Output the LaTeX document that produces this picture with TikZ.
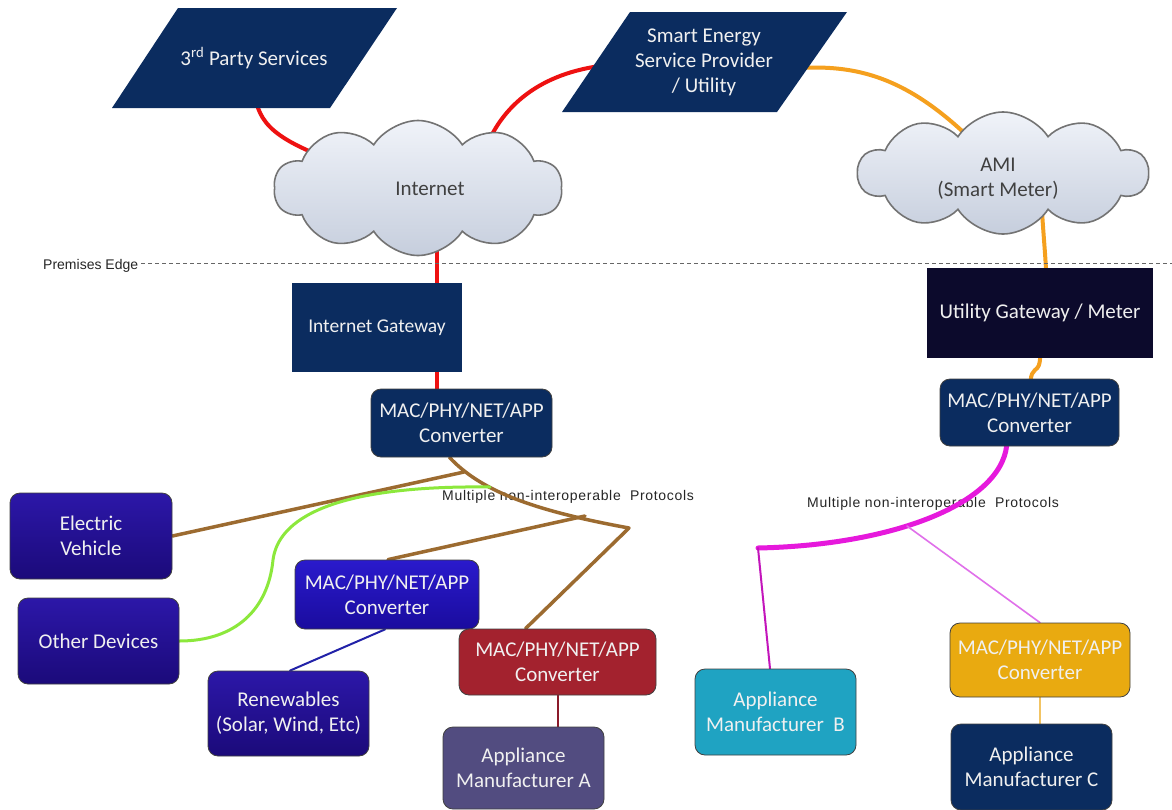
\documentclass[tikz,border=0pt]{standalone}
\usepackage{fontspec}
\setmainfont{Carlito}
\newfontfamily\arialf{Liberation Sans}
\newfontfamily\arialsp[LetterSpace=5]{Liberation Sans}
\usetikzlibrary{shapes.symbols,calc}
\pgfdeclarelayer{paper}
\pgfdeclarelayer{lbl}
\pgfdeclarelayer{bg}
\pgfsetlayers{paper,lbl,bg,main}
\definecolor{navy}{HTML}{0B2C5F}
\definecolor{ink}{HTML}{0C0A2C}
\definecolor{indtop}{HTML}{2C17A8}
\definecolor{indbot}{HTML}{1B0A7A}
\definecolor{bltop}{HTML}{2A1ACC}
\definecolor{blbot}{HTML}{1A0C9E}
\definecolor{cred}{HTML}{A3222E}
\definecolor{cgrey}{HTML}{524C80}
\definecolor{cteal}{HTML}{1FA3C2}
\definecolor{cyel}{HTML}{E9AA10}
\definecolor{cloudtop}{HTML}{F0F3F9}
\definecolor{cloudbot}{HTML}{C6CEDD}
\definecolor{lred}{HTML}{EE1111}
\definecolor{lorange}{HTML}{F5A01E}
\definecolor{lmag}{HTML}{E619DC}
\definecolor{lmagl}{HTML}{E070EA}
\definecolor{lbrown}{HTML}{9C6B30}
\definecolor{lgreen}{HTML}{8CE83C}
\definecolor{lblue}{HTML}{2222A8}
\definecolor{ldred}{HTML}{8B1A2A}
\definecolor{lyel}{HTML}{F2C464}
\tikzset{
  boxbase/.style={align=center, text=white!94!black, font=\fontsize{21}{25}\selectfont, inner sep=0pt, line width=0.8pt},
  rbox/.style={boxbase, rounded corners=10pt, draw=black!75},
  sqbox/.style={boxbase},
  cloudy/.style={cloud, cloud puffs=10, cloud puff arc=115, aspect=2.2, draw=black!55, line width=1.6pt, top color=cloudtop, bottom color=cloudbot, inner sep=0pt},
  cloudtxt/.style={align=center, text=black!75, font=\fontsize{21}{25}\selectfont},
  para/.style={fill=navy},
  conn/.style={line cap=round},
  redline/.style={conn, draw=lred, line width=4pt},
  orline/.style={conn, draw=lorange, line width=4pt},
  magthick/.style={conn, draw=lmag, line width=5pt},
  magthin/.style={conn, draw=lmagl, line width=1.6pt},
  magmid/.style={conn, draw=lmag!85!black, line width=2pt},
  brownline/.style={conn, draw=lbrown, line width=3.5pt},
  greenline/.style={conn, draw=lgreen, line width=3pt},
  blueline/.style={conn, draw=lblue, line width=2pt},
  dredline/.style={conn, draw=ldred, line width=2pt},
  yelline/.style={conn, draw=lyel, line width=1.5pt},
  note/.style={font=\arialf\fontsize{14}{16}\selectfont, text=black!85, inner sep=0pt},
  protonote/.style={font=\arialsp\fontsize{14}{16}\selectfont, text=black!85, inner sep=0pt},
}
\begin{document}
\begin{tikzpicture}[x=1pt, y=-1pt]
\useasboundingbox (0,0) rectangle (1172,809);
\begin{pgfonlayer}{paper}
\fill[white] (0,0) rectangle (1172,809);
\end{pgfonlayer}

% parallelograms
\fill[para] (178,8) -- (397,8) -- (330,108) -- (112,108) -- cycle;
\node[boxbase] (tps) at (254,58) {3\textsuperscript{rd} Party Services};
\fill[para] (630,12) -- (847,12) -- (777,112) -- (562,112) -- cycle;
\node[boxbase] (sesp) at (704,62) {Smart Energy\\Service Provider\\/ Utility};
\coordinate (tpsB) at (258,108);
\coordinate (sespL) at (600,66);
\coordinate (sespR) at (800,68);

% clouds
\node[cloudy, minimum width=288pt, minimum height=135pt] (inet) at (418,188) {};
\node[cloudtxt] (inettxt) at (430,189) {Internet};
\node[cloudy, minimum width=290pt, minimum height=122pt] (ami) at (1003,173) {};
\node[cloudtxt] (amitxt) at (998,179) {AMI\\(Smart Meter)};

% premises edge
\node[note, anchor=west] (prem) at (43,266) {Premises Edge};
\coordinate (pe) at (1172,263);
\draw[black!60, line width=0.8pt, dash pattern=on 4pt off 3pt] (prem.east |- pe) ++(3,0) -- (pe);

% boxes
\node[sqbox, fill=navy, minimum width=170pt, minimum height=89pt, font=\fontsize{19.5}{24}\selectfont] (igw) at (377,327.5) {Internet Gateway};
\node[sqbox, fill=ink, minimum width=226pt, minimum height=90pt] (ugw) at (1040,313) {Utility Gateway / Meter};
\node[rbox, fill=navy, minimum width=181pt, minimum height=68pt] (conv1) at (461.5,423) {MAC/PHY/NET/APP\\Converter};
\node[rbox, fill=navy, minimum width=179pt, minimum height=67pt] (conv2) at (1029.5,412.5) {MAC/PHY/NET/APP\\Converter};
\node[rbox, top color=indtop, bottom color=indbot, minimum width=162pt, minimum height=86pt] (ev) at (91,536) {Electric\\Vehicle};
\node[rbox, top color=indtop, bottom color=indbot, minimum width=161pt, minimum height=86pt] (other) at (98.5,641) {Other Devices};
\node[rbox, top color=bltop, bottom color=blbot, minimum width=184pt, minimum height=69pt] (conv3) at (387,594.5) {MAC/PHY/NET/APP\\Converter};
\node[rbox, top color=indtop, bottom color=indbot, minimum width=161pt, minimum height=85pt] (renew) at (288.5,713.5) {Renewables\\(Solar, Wind, Etc)};
\node[rbox, fill=cred, minimum width=197pt, minimum height=66pt] (conv4) at (557.5,662) {MAC/PHY/NET/APP\\Converter};
\node[rbox, fill=cgrey, minimum width=161pt, minimum height=82pt] (appA) at (523.5,768) {Appliance\\Manufacturer A};
\node[rbox, fill=cteal, minimum width=161pt, minimum height=86pt] (appB) at (775.5,712) {Appliance\\Manufacturer\ \ B};
\node[rbox, fill=cyel, minimum width=180pt, minimum height=74pt] (conv5) at (1040,660) {MAC/PHY/NET/APP\\Converter};
\node[rbox, fill=navy, minimum width=161pt, minimum height=86pt] (appC) at (1031.5,767) {Appliance\\Manufacturer C};

% protocol notes
\begin{pgfonlayer}{lbl}
\node[protonote, anchor=west] (proto1) at (442,497) {Multiple non-interoperable\ \ Protocols};
\node[protonote, anchor=west] (proto2) at (807,504) {Multiple non-interoperable\ \ Protocols};
\end{pgfonlayer}

% connectors
\begin{pgfonlayer}{bg}
\draw[redline] (tpsB) .. controls (268,135) and (295,152) .. (inet.center);
\draw[redline] (485,150) .. controls (500,110) and (535,75) .. (sespL);
\draw[redline] ([xshift=60pt]igw.center) -- ([xshift=60pt]igw.center |- inet.center);
\draw[redline] ([xshift=60pt]igw.center) -- ([xshift=-24.5pt]conv1.center);
\draw[orline] (sespR) .. controls (870,64) and (925,85) .. (ami.center);
\draw[orline] ([xshift=37pt]ami.center) .. controls (1043,245) and (1047,255) .. ([xshift=7pt]ugw.center);
\draw[orline] (ugw.center) .. controls (1040,360) and (1042,365) .. (1035,370) .. controls (1030,374) and (1030,380) .. (conv2.center);

\coordinate (mB) at (758,548);
\coordinate (mC) at (907,526);
\draw[magthick] ([xshift=-22.5pt]conv2.center) -- (1007,440) .. controls (1007,500) and (900,545) .. (mB);
\draw[magthin] (mC) -- (conv5.north);
\draw[magmid] (mB) -- ([xshift=-5.5pt]appB.north);
\draw[yelline] (conv5.south) -- (conv5.south |- appC.north);

\coordinate (b1) at (464,472);
\coordinate (b2) at (585,516);
\coordinate (b3) at (629,528);
\draw[brownline] ([xshift=-12pt]conv1.south) .. controls (480,490) and (530,510) .. (b3);
\draw[brownline] (b1) -- (ev.east);
\draw[brownline] (b2) -- ([xshift=1pt]conv3.north);
\draw[brownline] (b3) -- ([xshift=-32pt]conv4.north);
\draw[greenline] (490,487) .. controls (330,485) and (278,520) .. (273,560) .. controls (268,610) and (235,641) .. (other.east);
\draw[blueline] ([xshift=-2pt]conv3.south) -- ([xshift=1.5pt]renew.north);
\draw[dredline] (conv4.south) -- (conv4.south |- appA.north);
\end{pgfonlayer}
\end{tikzpicture}
\end{document}
